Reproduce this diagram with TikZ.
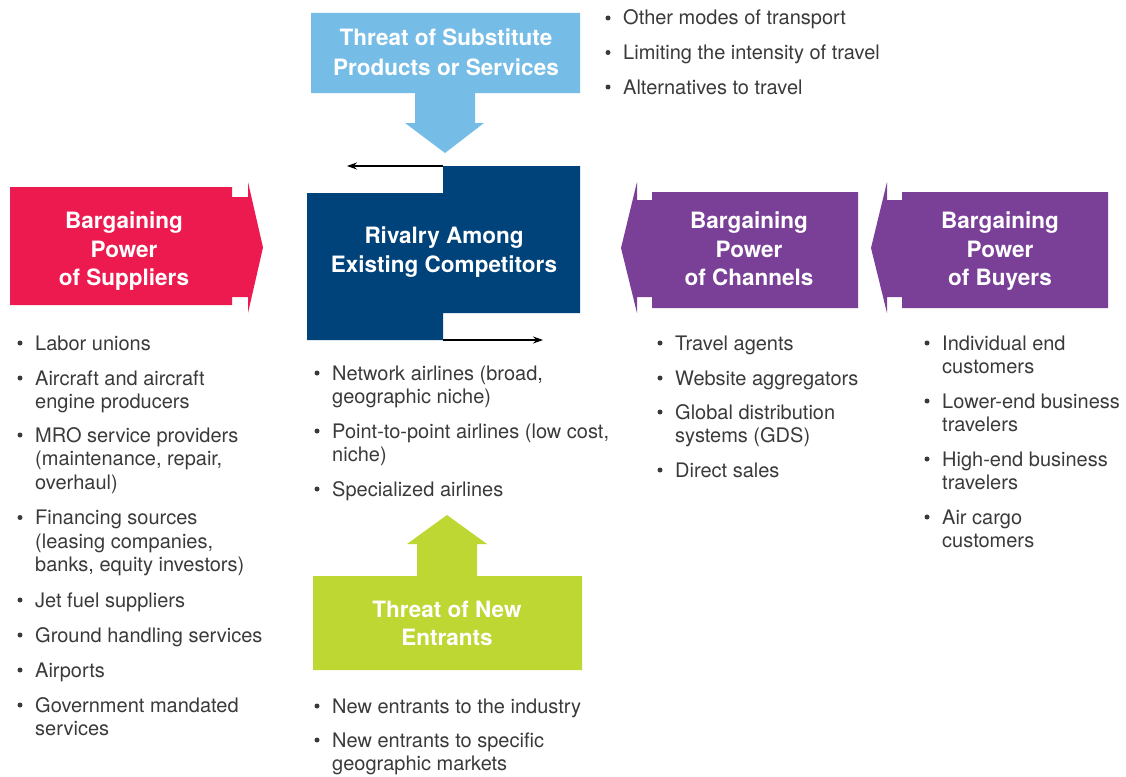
\documentclass[tikz,border=0pt]{standalone}
\usepackage{fontspec}
\setmainfont{TeX Gyre Heros}
\usetikzlibrary{arrows.meta}
\definecolor{subblue}{HTML}{75BDE7}
\definecolor{rivnavy}{HTML}{00427A}
\definecolor{supred}{HTML}{EC1A4F}
\definecolor{buypurple}{HTML}{7A4098}
\definecolor{newlime}{HTML}{BED732}
\definecolor{listgrey}{HTML}{3A3A3A}
\tikzset{
  headtext/.style={text=white, font=\fontsize{22.5}{29}\selectfont\bfseries, anchor=base, inner sep=0pt},
  itemtext/.style={text=listgrey, font=\fontsize{20}{24}\selectfont, anchor=base west, inner sep=0pt},
  dot/.style={fill=listgrey, circle, inner sep=0pt, minimum size=5pt},
  flow/.style={-{Stealth[length=10pt,width=7pt,inset=3.5pt]}, line width=1.2pt, black}
}
\newcommand{\bulln}[4]{\node[dot] (#1b) at (#2-15,#3-7) {}; \node[itemtext] (#1) at (#2,#3) {#4};}
\newcommand{\contn}[4]{\node[itemtext] (#1) at (#2,#3) {#4};}
\begin{document}
\begin{tikzpicture}[x=1pt,y=-1pt]
\useasboundingbox (0,0) rectangle (1126,776);

% ---- Threat of substitutes (down arrow)
\fill[subblue] (311,13) -- (580,13) -- (580,93) -- (475,93) -- (475,123) -- (484,123)
  -- (445,153) -- (405,123) -- (415,123) -- (415,93) -- (311,93) -- cycle;
\node[headtext] (sub1) at (446,46) {Threat of Substitute};
\node[headtext] (sub2) at (446,75) {Products or Services};

% ---- Rivalry box
\fill[rivnavy] (307,193) -- (443,193) -- (443,166) -- (580,166) -- (580,313)
  -- (443,313) -- (443,340) -- (307,340) -- cycle;
\node[headtext] (riv1) at (444,243) {Rivalry Among};
\node[headtext] (riv2) at (444,272) {Existing Competitors};
\coordinate (rivTop) at (443,166);
\coordinate (rivTopEnd) at (347,166);
\coordinate (rivBot) at (443,340);
\coordinate (rivBotEnd) at (543,340);
\draw[flow] (rivTop) -- (rivTopEnd);
\draw[flow] (rivBot) -- (rivBotEnd);

% ---- Suppliers (right arrow)
\fill[supred] (10,187) -- (232,187) -- (232,197) -- (248,197) -- (248,182) -- (263,247.5)
  -- (248,313) -- (248,297) -- (232,297) -- (232,305) -- (10,305) -- cycle;
\node[headtext] (sup1) at (124,228) {Bargaining};
\node[headtext] (sup2) at (124,257) {Power};
\node[headtext] (sup3) at (124,285) {of Suppliers};

% ---- Channels (left arrow)
\fill[buypurple] (858,192) -- (652,192) -- (652,200) -- (637,200) -- (637,182) -- (621,248)
  -- (637,313) -- (637,297) -- (652,297) -- (652,308) -- (858,308) -- cycle;
\node[headtext] (cha1) at (749,228) {Bargaining};
\node[headtext] (cha2) at (749,257) {Power};
\node[headtext] (cha3) at (749,285) {of Channels};

% ---- Buyers (left arrow)
\fill[buypurple] (1108,192) -- (902,192) -- (902,200) -- (887,200) -- (887,182) -- (871,248)
  -- (887,313) -- (887,297) -- (902,297) -- (902,308) -- (1108,308) -- cycle;
\node[headtext] (buy1) at (1000,228) {Bargaining};
\node[headtext] (buy2) at (1000,257) {Power};
\node[headtext] (buy3) at (1000,285) {of Buyers};

% ---- New entrants (up arrow)
\fill[newlime] (313,576) -- (417,576) -- (417,544) -- (407,544) -- (447,515) -- (487,544)
  -- (477,544) -- (477,576) -- (582,576) -- (582,670) -- (313,670) -- cycle;
\node[headtext] (new1) at (447,617) {Threat of New};
\node[headtext] (new2) at (447,645) {Entrants};

% ---- Substitute list
\bulln{s1}{623}{25}{Other modes of transport}
\bulln{s2}{623}{59.5}{Limiting the intensity of travel}
\bulln{s3}{623}{94}{Alternatives to travel}

% ---- Supplier list
\bulln{p1}{35}{350}{Labor unions}
\bulln{p2}{35}{385}{Aircraft and aircraft}
\contn{p2a}{35}{408.5}{engine producers}
\bulln{p3}{35}{442}{MRO service providers}
\contn{p3a}{35}{465.5}{(maintenance, repair,}
\contn{p3b}{35}{489}{overhaul)}
\bulln{p4}{35}{524.5}{Financing sources}
\contn{p4a}{35}{548}{(leasing companies,}
\contn{p4b}{35}{571.5}{banks, equity investors)}
\bulln{p5}{35}{607}{Jet fuel suppliers}
\bulln{p6}{35}{642}{Ground handling services}
\bulln{p7}{35}{677}{Airports}
\bulln{p8}{35}{712}{Government mandated}
\contn{p8a}{35}{735.5}{services}

% ---- Rivalry list
\bulln{r1}{332}{380}{Network airlines (broad,}
\contn{r1a}{332}{403.5}{geographic niche)}
\bulln{r2}{332}{438}{Point-to-point airlines (low cost,}
\contn{r2a}{332}{461.5}{niche)}
\bulln{r3}{332}{496}{Specialized airlines}

% ---- Channel list
\bulln{c1}{675}{350}{Travel agents}
\bulln{c2}{675}{385}{Website aggregators}
\bulln{c3}{675}{419}{Global distribution}
\contn{c3a}{675}{442.5}{systems (GDS)}
\bulln{c4}{675}{477}{Direct sales}

% ---- Buyer list
\bulln{b1}{942}{350}{Individual end}
\contn{b1a}{942}{373.5}{customers}
\bulln{b2}{942}{408}{Lower-end business}
\contn{b2a}{942}{431.5}{travelers}
\bulln{b3}{942}{466}{High-end business}
\contn{b3a}{942}{489.5}{travelers}
\bulln{b4}{942}{524}{Air cargo}
\contn{b4a}{942}{547.5}{customers}

% ---- New entrants list
\bulln{n1}{332}{713}{New entrants to the industry}
\bulln{n2}{332}{747}{New entrants to specific}
\contn{n2a}{332}{770.5}{geographic markets}
\end{tikzpicture}
\end{document}
